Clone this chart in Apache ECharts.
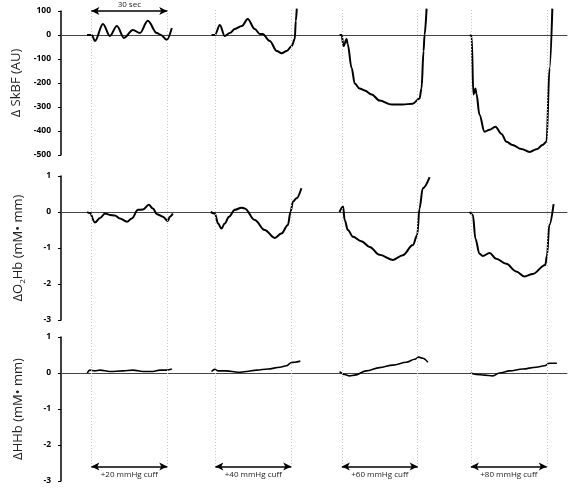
<!DOCTYPE html>
<html>
<head>
<meta charset="utf-8">
<script src="https://cdn.jsdelivr.net/npm/echarts@6/dist/echarts.min.js"></script>
<style>
  html, body { margin: 0; padding: 0; background: #fff; }
  #chart { width: 571px; height: 488px; }
</style>
</head>
<body>
<div id="chart"></div>
<script>
// time axis in seconds, cuff periods last 30 s
const cuffStarts = [12, 61, 111, 162]
const cuffLength = 30
const cuffLabels = ['+20 mmHg cuff', '+40 mmHg cuff', '+60 mmHg cuff', '+80 mmHg cuff']

// Δ SkBF (AU), [time, value]
const skbf20 = [[10.3,0],[12.2,0],[13.4,-25],[16.6,46],[19.3,-4],[22.1,38],[24.9,-12],[28.4,21],[31.2,8],[34.3,59],[37.9,8],[39.5,0],[41.8,-20],[43.8,29]]
const skbf40 = [[59.5,0],[60.8,0],[62.8,42],[64.7,-4],[66.7,8],[68.7,25],[71.5,38],[73.8,67],[76.6,25],[78.6,4],[79.7,4],[82.5,-25],[85.3,-67],[87.2,-76],[89.2,-67],[91.2,-46],[92.4,-17],[92.8,59],[93.2,110]]
const skbf60 = [[110.1,0],[110.9,0],[111.7,-46],[112.9,-17],[113.3,-38],[114.9,-139],[116.1,-202],[118.0,-223],[120.0,-231],[122.8,-248],[125.9,-273],[130.7,-290],[135.0,-290],[139.0,-286],[141.7,-265],[142.5,-223],[143.3,-67],[143.7,0],[144.5,110]]
const skbf80 = [[161.5,0],[162.3,-4],[163.0,-248],[163.8,-223],[164.2,-244],[165.4,-332],[167.4,-403],[169.4,-395],[171.7,-382],[174.1,-412],[176.1,-445],[178.4,-458],[182.0,-475],[185.2,-487],[188.3,-475],[190.3,-458],[191.9,-445],[193.1,-139],[194.2,110]]

// ΔO2Hb (mM·mm)
const o2hb20 = [[10.3,0],[11.4,-0.03],[13.4,-0.29],[15.4,-0.17],[17.4,-0.04],[19.3,-0.08],[21.3,-0.1],[23.3,-0.18],[26.1,-0.27],[28.0,-0.18],[30.4,0.06],[32.4,0.07],[34.7,0.2],[36.3,0.1],[37.9,-0.06],[40.3,-0.13],[42.2,-0.25],[43.0,-0.13],[44.2,-0.04]]
const o2hb40 = [[59.2,0],[60.8,-0.04],[62.1,-0.32],[63.4,-0.46],[64.7,-0.32],[66.4,-0.13],[68.7,0.06],[71.3,0.12],[72.6,0.1],[76.6,-0.22],[80.5,-0.5],[84.5,-0.72],[87.1,-0.6],[89.7,-0.36],[90.7,0],[91.7,0.29],[93.1,0.38],[95.0,0.66]]
const o2hb60 = [[110.1,0],[111.5,0.15],[112.1,-0.22],[113.4,-0.5],[115.4,-0.69],[118.7,-0.81],[122.0,-0.97],[125.9,-1.19],[131.2,-1.33],[135.1,-1.2],[139.1,-0.92],[140.8,-0.64],[141.7,0.1],[143.0,0.66],[145.7,0.97]]
const o2hb80 = [[161.5,0],[162.8,-0.08],[163.8,-0.74],[165.4,-1.16],[166.7,-1.22],[169.4,-1.14],[172.0,-1.3],[176.0,-1.44],[179.9,-1.65],[183.2,-1.79],[186.5,-1.72],[191.4,-1.47],[192.1,-1.2],[193.0,-0.36],[194.7,0.22]]

// ΔHHb (mM·mm)
const hhb20 = [[10.4,0],[11.4,0.08],[13.4,0.06],[15.4,0.08],[19.3,0.04],[24.5,0.06],[28.4,0.08],[32.4,0.04],[36.3,0.04],[39.1,0.08],[41.8,0.08],[43.8,0.11]]
const hhb40 = [[59.5,0.04],[60.8,0.1],[62.1,0.06],[65.4,0.06],[70.0,0.02],[73.3,0.04],[77.3,0.08],[81.8,0.11],[86.5,0.16],[89.1,0.2],[91.1,0.29],[92.4,0.3],[94.6,0.33]]
const hhb60 = [[110.1,0.04],[112.1,-0.04],[114.1,-0.08],[116.1,-0.06],[120.7,0.06],[125.9,0.15],[131.2,0.22],[136.5,0.3],[139.8,0.38],[141.5,0.44],[143.0,0.41],[145.0,0.3]]
const hhb80 = [[161.9,0],[164.1,-0.04],[167.4,-0.06],[170.7,-0.08],[173.3,0],[177.3,0.06],[182.5,0.11],[187.8,0.16],[191.1,0.2],[193.0,0.27],[196.0,0.27]]

const panels = [
  {name: 'Δ SkBF (AU)', min: -500, max: 100, interval: 100, segs: [skbf20, skbf40, skbf60, skbf80], width: 2},
  {name: '{a|ΔO}{s|2}{a|Hb (mM• mm)}', min: -3, max: 1, interval: 1, segs: [o2hb20, o2hb40, o2hb60, o2hb80], width: 2},
  {name: 'ΔHHb (mM• mm)', min: -3, max: 1, interval: 1, segs: [hhb20, hhb40, hhb60, hhb80], width: 1.6}
]
const gridTops = [11, 176, 337]
const gridHeight = 144

const chart = echarts.init(document.getElementById('chart'))

const grid = [], xAxis = [], yAxis = [], series = []
panels.forEach((p, i) => {
  grid.push({left: 61, width: 506, top: gridTops[i], height: gridHeight})
  xAxis.push({
    type: 'value', gridIndex: i, min: 0, max: 200,
    axisLine: {show: true, onZero: true, lineStyle: {color: '#444', width: 1}},
    axisTick: {show: false}, axisLabel: {show: false}, splitLine: {show: false}
  })
  yAxis.push({
    type: 'value', gridIndex: i, min: p.min, max: p.max, interval: p.interval,
    name: p.name, nameLocation: 'middle', nameGap: 36,
    nameTextStyle: {
      fontFamily: 'Open Sans', fontSize: 13, color: '#222',
      rich: {
        a: {fontFamily: 'Open Sans', fontSize: 13, color: '#222', verticalAlign: 'bottom'},
        s: {fontFamily: 'Open Sans', fontSize: 8, color: '#222', verticalAlign: 'bottom', padding: [0, 0, -2, 0]}
      }
    },
    axisLine: {show: true, lineStyle: {color: '#000', width: 1.5}},
    axisTick: {show: true, length: 3, lineStyle: {color: '#000', width: 1}},
    axisLabel: {fontFamily: 'Open Sans', fontWeight: 'bold', fontSize: 8.5, color: '#000', margin: 10},
    splitLine: {show: false}
  })
  p.segs.forEach(seg => {
    series.push({
      type: 'line', xAxisIndex: i, yAxisIndex: i, data: seg,
      smooth: 0.35, smoothMonotone: 'x', showSymbol: false, clip: false,
      lineStyle: {color: '#000', width: p.width}, silent: true
    })
  })
})

// overlay grid spanning the whole height for the dotted cuff markers and arrows
grid.push({left: 61, width: 506, top: 0, height: 488})
xAxis.push({type: 'value', gridIndex: 3, min: 0, max: 200, show: false})
yAxis.push({type: 'value', gridIndex: 3, min: 0, max: 488, inverse: true, show: false})

const dotted = []
cuffStarts.forEach(s => {
  dotted.push([{coord: [s, 10]}, {coord: [s, 467]}])
  dotted.push([{coord: [s + cuffLength, 10]}, {coord: [s + cuffLength, 467]}])
})
const arrows = cuffStarts.map((s, k) => [
  {coord: [s, 466.5], label: {show: true, position: 'insideMiddleBottom', formatter: cuffLabels[k], distance: 4}},
  {coord: [s + cuffLength, 466.5]}
])
arrows.push([
  {coord: [cuffStarts[0], 11], label: {show: true, position: 'middle', formatter: '30 sec', distance: 2}},
  {coord: [cuffStarts[0] + cuffLength, 11]}
])

series.push({
  type: 'line', xAxisIndex: 3, yAxisIndex: 3, data: [], silent: true,
  markLine: {
    silent: true, symbol: 'none', animation: false,
    label: {show: false},
    lineStyle: {type: [1, 2], color: '#c4c4c4', width: 1},
    data: dotted
  }
})
series.push({
  type: 'line', xAxisIndex: 3, yAxisIndex: 3, data: [], silent: true,
  markLine: {
    silent: true, symbol: ['arrow', 'arrow'], symbolSize: [6, 8], animation: false,
    label: {fontFamily: 'Open Sans', fontSize: 8, color: '#222'},
    lineStyle: {type: 'solid', color: '#000', width: 1.5},
    data: arrows
  }
})

chart.setOption({
  animation: false,
  grid: grid,
  xAxis: xAxis,
  yAxis: yAxis,
  series: series
})
</script>
</body>
</html>
